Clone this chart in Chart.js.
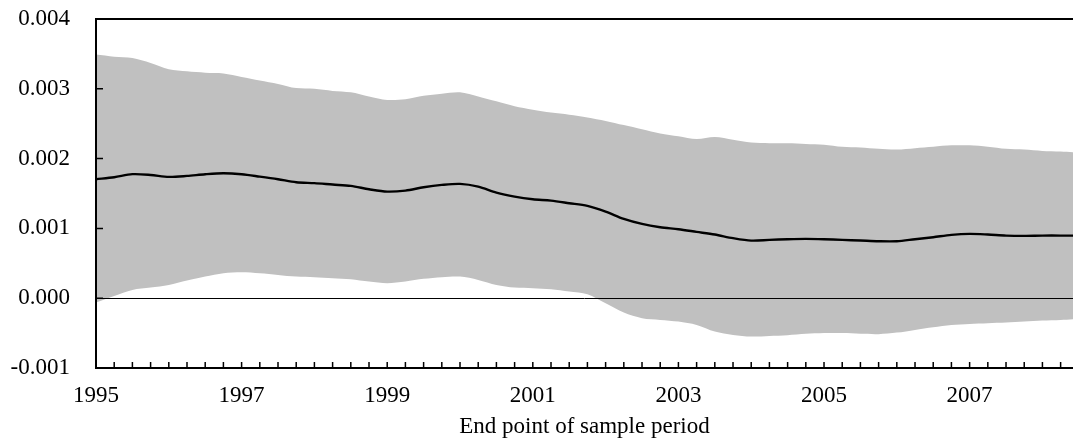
<!DOCTYPE html>
<html>
<head>
<meta charset="utf-8">
<script src="https://cdn.jsdelivr.net/npm/chart.js@4/dist/chart.umd.min.js"></script>
<style>
  html, body { margin: 0; padding: 0; background: #fff; }
  #wrap { width: 1073px; height: 443px; position: relative; }
</style>
</head>
<body>
<div id="wrap"><canvas id="chart"></canvas></div>
<script>
// end point of sample period (quarters, last one is the right edge of the sample)
const periods = [
  1995, 1995.25, 1995.5, 1995.75, 1996, 1996.25, 1996.5, 1996.75,
  1997, 1997.25, 1997.5, 1997.75, 1998, 1998.25, 1998.5, 1998.75,
  1999, 1999.25, 1999.5, 1999.75, 2000, 2000.25, 2000.5, 2000.75,
  2001, 2001.25, 2001.5, 2001.75, 2002, 2002.25, 2002.5, 2002.75,
  2003, 2003.25, 2003.5, 2003.75, 2004, 2004.25, 2004.5, 2004.75,
  2005, 2005.25, 2005.5, 2005.75, 2006, 2006.25, 2006.5, 2006.75,
  2007, 2007.25, 2007.5, 2007.75, 2008, 2008.25, 2008.42
];

const estimate = [
  0.001705, 0.001733, 0.001777, 0.001766, 0.001738, 0.001752, 0.001776, 0.001790, 0.001776, 0.001742,
  0.001705, 0.001662, 0.001648, 0.001628, 0.001609, 0.001561, 0.001527, 0.001542, 0.001590, 0.001623,
  0.001638, 0.001599, 0.001513, 0.001456, 0.001418, 0.001398, 0.001361, 0.001322, 0.001241, 0.001136,
  0.001064, 0.001017, 0.000988, 0.000950, 0.000912, 0.000860, 0.000825, 0.000835, 0.000845, 0.000850,
  0.000845, 0.000835, 0.000826, 0.000816, 0.000816, 0.000845, 0.000874, 0.000907, 0.000921, 0.000912,
  0.000897, 0.000893, 0.000897, 0.000897, 0.000897
];

const upperBand = [
  0.00349, 0.00346, 0.00344, 0.00337, 0.00328, 0.00325, 0.00323, 0.00322, 0.00317, 0.00312,
  0.00307, 0.00301, 0.00300, 0.00297, 0.00295, 0.00289, 0.00284, 0.00285, 0.00290, 0.00293,
  0.00295, 0.00289, 0.00282, 0.00275, 0.00270, 0.00266, 0.00263, 0.00259, 0.00254, 0.00248,
  0.00242, 0.00236, 0.00232, 0.00228, 0.00231, 0.00227, 0.00223, 0.00222, 0.00222, 0.00221,
  0.00220, 0.00217, 0.00216, 0.00214, 0.00213, 0.00215, 0.00217, 0.00219, 0.00219, 0.00217,
  0.00214, 0.00213, 0.00211, 0.00210, 0.00209
];

const lowerBand = [
  -0.000063, 0.000033, 0.000119, 0.000152, 0.000190, 0.000252, 0.000310, 0.000358, 0.000372, 0.000358,
  0.000334, 0.000310, 0.000300, 0.000286, 0.000272, 0.000238, 0.000215, 0.000238, 0.000277, 0.000300,
  0.000310, 0.000262, 0.000190, 0.000152, 0.000143, 0.000129, 0.000095, 0.000057, -0.000072, -0.000206,
  -0.000287, -0.000311, -0.000335, -0.000383, -0.000478, -0.000526, -0.000550, -0.000540, -0.000530, -0.000511,
  -0.000500, -0.000500, -0.000511, -0.000516, -0.000493, -0.000454, -0.000416, -0.000383, -0.000368, -0.000358,
  -0.000349, -0.000335, -0.000321, -0.000311, -0.000300
];

const quarterTicks = periods.slice(0, 54);
const yearLabels = [1995, 1997, 1999, 2001, 2003, 2005, 2007];
const yMin = -0.001, yMax = 0.004, yStep = 0.001;

function toPoints(values) {
  return values.map((v, i) => ({ x: periods[i], y: v }));
}

const font = { family: '"Liberation Serif", "Times New Roman", serif', size: 23 };

// frame, zero line and inward tick marks
const framePlugin = {
  id: 'frame',
  afterDatasetsDraw(chart) {
    const { ctx, chartArea: a, scales: { x, y } } = chart;
    ctx.save();
    ctx.strokeStyle = '#000';

    ctx.lineWidth = 1;
    const y0 = Math.round(y.getPixelForValue(0)) + 0.5;
    ctx.beginPath();
    ctx.moveTo(a.left, y0);
    ctx.lineTo(a.right, y0);
    ctx.stroke();

    ctx.lineWidth = 2;
    ctx.beginPath();
    ctx.moveTo(chart.width, a.top);
    ctx.lineTo(a.left, a.top);
    ctx.lineTo(a.left, a.bottom);
    ctx.lineTo(chart.width, a.bottom);
    ctx.stroke();

    ctx.lineWidth = 1.5;
    ctx.beginPath();
    y.ticks.forEach(t => {
      if (t.value <= yMin || t.value >= yMax) return;
      const py = y.getPixelForValue(t.value);
      ctx.moveTo(a.left, py);
      ctx.lineTo(a.left + 7, py);
    });
    quarterTicks.forEach(v => {
      if (v === quarterTicks[0]) return;
      const px = x.getPixelForValue(v);
      ctx.moveTo(px, a.bottom);
      ctx.lineTo(px, a.bottom - 6);
    });
    ctx.stroke();
    ctx.restore();
  }
};

new Chart(document.getElementById('chart'), {
  type: 'line',
  data: {
    datasets: [
      {
        data: toPoints(upperBand),
        borderWidth: 0,
        pointRadius: 0,
        backgroundColor: '#c0c0c0',
        fill: '+1',
        tension: 0.3,
        order: 2
      },
      {
        data: toPoints(lowerBand),
        borderWidth: 0,
        pointRadius: 0,
        fill: false,
        tension: 0.3,
        order: 3
      },
      {
        data: toPoints(estimate),
        borderColor: '#000',
        borderWidth: 2.4,
        pointRadius: 0,
        fill: false,
        tension: 0.3,
        order: 1
      }
    ]
  },
  options: {
    responsive: true,
    maintainAspectRatio: false,
    animation: false,
    layout: { padding: { top: 19, right: 0, left: 0, bottom: 0 } },
    plugins: { legend: { display: false }, tooltip: { enabled: false } },
    scales: {
      x: {
        type: 'linear',
        min: periods[0],
        max: periods[periods.length - 1],
        afterBuildTicks: s => { s.ticks = quarterTicks.map(v => ({ value: v })); },
        afterFit: s => { s.height = 75; s.paddingLeft = 0; s.paddingRight = 0; },
        grid: { display: false, drawTicks: false },
        border: { display: false },
        ticks: {
          autoSkip: false,
          maxRotation: 0,
          padding: 14,
          color: '#000',
          font,
          callback: v => yearLabels.includes(v) ? String(v) : ''
        },
        title: {
          display: true,
          text: 'End point of sample period',
          color: '#000',
          font,
          padding: { top: 2, bottom: 2 }
        }
      },
      y: {
        min: yMin,
        max: yMax,
        afterFit: s => { s.width = 96; s.paddingTop = 0; s.paddingBottom = 0; },
        grid: { display: false, drawTicks: false },
        border: { display: false },
        ticks: {
          stepSize: yStep,
          padding: 26,
          color: '#000',
          font,
          callback: v => v.toFixed(3)
        }
      }
    }
  },
  plugins: [framePlugin]
});
</script>
</body>
</html>
